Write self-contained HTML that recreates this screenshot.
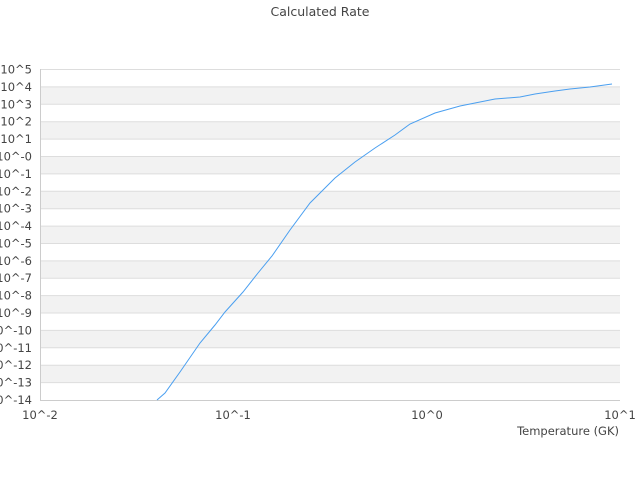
<!DOCTYPE html>
<html><head><meta charset="utf-8"><style>
body{margin:0;background:#fff}
svg text{font-family:"DejaVu Sans","Liberation Sans",sans-serif;fill:#444;font-size:11.5px}
</style></head><body>
<svg width="640" height="480" xmlns="http://www.w3.org/2000/svg">
<text x="320" y="16" text-anchor="middle" style="font-size:12.5px">Calculated Rate</text>
<g fill="#f2f2f2">
<rect x="40" y="86.9" width="580" height="17.4"/>
<rect x="40" y="121.7" width="580" height="17.4"/>
<rect x="40" y="156.5" width="580" height="17.4"/>
<rect x="40" y="191.3" width="580" height="17.4"/>
<rect x="40" y="226.1" width="580" height="17.4"/>
<rect x="40" y="260.9" width="580" height="17.4"/>
<rect x="40" y="295.6" width="580" height="17.4"/>
<rect x="40" y="330.4" width="580" height="17.4"/>
<rect x="40" y="365.2" width="580" height="17.4"/>
</g>
<g stroke="#ddd">
<line x1="40" x2="620" y1="69.5" y2="69.5"/>
<line x1="40" x2="620" y1="86.9" y2="86.9"/>
<line x1="40" x2="620" y1="104.3" y2="104.3"/>
<line x1="40" x2="620" y1="121.7" y2="121.7"/>
<line x1="40" x2="620" y1="139.1" y2="139.1"/>
<line x1="40" x2="620" y1="156.5" y2="156.5"/>
<line x1="40" x2="620" y1="173.9" y2="173.9"/>
<line x1="40" x2="620" y1="191.3" y2="191.3"/>
<line x1="40" x2="620" y1="208.7" y2="208.7"/>
<line x1="40" x2="620" y1="226.1" y2="226.1"/>
<line x1="40" x2="620" y1="243.5" y2="243.5"/>
<line x1="40" x2="620" y1="260.9" y2="260.9"/>
<line x1="40" x2="620" y1="278.2" y2="278.2"/>
<line x1="40" x2="620" y1="295.6" y2="295.6"/>
<line x1="40" x2="620" y1="313.0" y2="313.0"/>
<line x1="40" x2="620" y1="330.4" y2="330.4"/>
<line x1="40" x2="620" y1="347.8" y2="347.8"/>
<line x1="40" x2="620" y1="365.2" y2="365.2"/>
<line x1="40" x2="620" y1="382.6" y2="382.6"/>
</g>
<g text-anchor="end">
<text x="32" y="73.5">10^5</text>
<text x="32" y="90.9">10^4</text>
<text x="32" y="108.3">10^3</text>
<text x="32" y="125.7">10^2</text>
<text x="32" y="143.1">10^1</text>
<text x="32" y="160.5">10^-0</text>
<text x="32" y="177.9">10^-1</text>
<text x="32" y="195.3">10^-2</text>
<text x="32" y="212.7">10^-3</text>
<text x="32" y="230.1">10^-4</text>
<text x="32" y="247.5">10^-5</text>
<text x="32" y="264.9">10^-6</text>
<text x="32" y="282.2">10^-7</text>
<text x="32" y="299.6">10^-8</text>
<text x="32" y="317.0">10^-9</text>
<text x="32" y="334.4">10^-10</text>
<text x="32" y="351.8">10^-11</text>
<text x="32" y="369.2">10^-12</text>
<text x="32" y="386.6">10^-13</text>
<text x="32" y="404">10^-14</text>
</g>
<line x1="40.5" y1="69" x2="40.5" y2="400" stroke="#ccc"/>
<line x1="40" y1="400.5" x2="620" y2="400.5" stroke="#ccc"/>
<text x="40" y="419" text-anchor="middle">10^-2</text>
<text x="233" y="419" text-anchor="middle">10^-1</text>
<text x="427" y="419" text-anchor="middle">10^0</text>
<text x="620" y="419" text-anchor="middle">10^1</text>
<text x="619" y="435" text-anchor="end">Temperature (GK)</text>
<polyline fill="none" stroke="#4a9ff0" stroke-width="1" points="157,400 165,393 180,372 200,343 215,325 225,312 243,292 258,273 272,256 290,230 310,203 335,178 355,162 375,148 395,135 410,124 435,113 460,106 495,99 520,97 535,94 555,91 570,89 590,87 612,84"/>
</svg>
</body></html>
